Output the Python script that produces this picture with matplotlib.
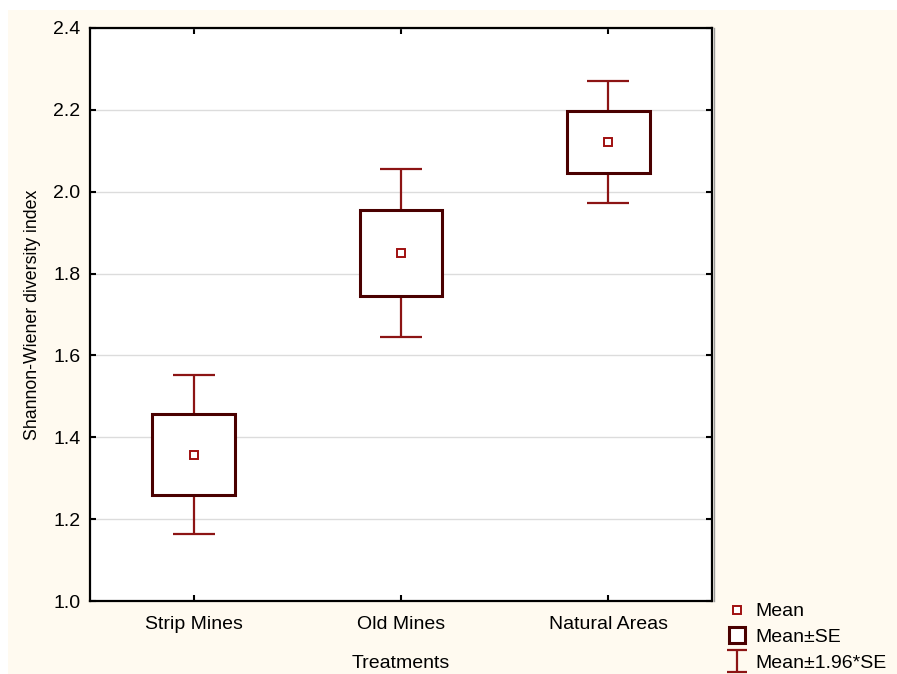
import matplotlib.pyplot as plt
from matplotlib.lines import Line2D
from matplotlib.patches import Rectangle
from matplotlib.path import Path

plt.rcParams['font.family'] = ['Liberation Sans', 'DejaVu Sans']

# data
treatments = ['Strip Mines', 'Old Mines', 'Natural Areas']
means = [1.357, 1.850, 2.121]
se = [0.099, 0.105, 0.076]
ci = [1.96 * s for s in se]

box_col = '#4a0000'
red = '#8c1414'
cream = '#fffaf0'

fig = plt.figure(figsize=(8.97, 6.74), dpi=100, facecolor='white')
# cream panel behind everything
fig.patches.append(Rectangle((8 / 897, 0), 1, 1 - 10 / 674, transform=fig.transFigure,
                             facecolor=cream, edgecolor='none', zorder=-10))

ax = fig.add_axes([90 / 897, 73 / 674, 622 / 897, 573 / 674])
ax.set_facecolor('white')

x = list(range(len(treatments)))

# whiskers (mean +- 1.96*SE)
ax.errorbar(x, means, yerr=ci, fmt='none', ecolor=red, elinewidth=1.6,
            capsize=14.8, capthick=1.6, zorder=2)
# boxes (mean +- SE)
ax.bar(x, [2 * s for s in se], bottom=[m - s for m, s in zip(means, se)], width=0.4,
       facecolor='white', edgecolor=box_col, linewidth=2.2, zorder=3)
# means
ax.plot(x, means, 's', ms=6, mfc='white', mec='#a01010', mew=1.4, zorder=4)

ax.set_xlim(-0.5, 2.5)
ax.set_ylim(1.0, 2.4)
ax.set_yticks([1.0, 1.2, 1.4, 1.6, 1.8, 2.0, 2.2, 2.4])
ax.set_yticklabels(['1.0', '1.2', '1.4', '1.6', '1.8', '2.0', '2.2', '2.4'])
ax.set_xticks(x)
ax.set_xticklabels(treatments)
ax.grid(axis='y', color='#dcdcdc', linewidth=1.0, zorder=0)
ax.set_axisbelow(True)

ax.tick_params(direction='in', length=4, width=1.5, top=True, right=True,
               labelsize=14, colors='black')
ax.tick_params(axis='x', pad=10.5)
ax.tick_params(axis='y', pad=7)
for sp in ax.spines.values():
    sp.set_linewidth(1.6)
    sp.set_color('black')
# faint shadow on the right edge of the frame
ax.plot([1.004, 1.004], [0, 1], transform=ax.transAxes, color='#9a9a9a',
        lw=1.0, clip_on=False, zorder=5)

ax.set_ylabel('Shannon-Wiener diversity index', fontsize=12.8, labelpad=9)
ax.set_xlabel('Treatments', fontsize=14, labelpad=16)

# legend
ibar = Path([(-0.45, 0.5), (0.45, 0.5), (0, 0.5), (0, -0.5), (-0.45, -0.5), (0.45, -0.5)],
            [Path.MOVETO, Path.LINETO, Path.MOVETO, Path.LINETO, Path.MOVETO, Path.LINETO])
handles = [
    Line2D([], [], ls='none', marker='s', ms=6, mfc='white', mec='#a01010', mew=1.4),
    Line2D([], [], ls='none', marker='s', ms=12, mfc='white', mec=box_col, mew=2.2),
    Line2D([], [], ls='none', marker=ibar, ms=15.5, mfc='none', mec=red, mew=1.6),
]
fig.legend(handles, ['Mean', 'Mean\u00b1SE', 'Mean\u00b11.96*SE'], loc='upper left',
           bbox_to_anchor=(719 / 897, 1 - 595 / 674), frameon=False, fontsize=14,
           handlelength=1.1, handletextpad=0.35, labelspacing=0.42, borderaxespad=0)

fig.savefig('out.png', dpi=100, facecolor=fig.get_facecolor())
